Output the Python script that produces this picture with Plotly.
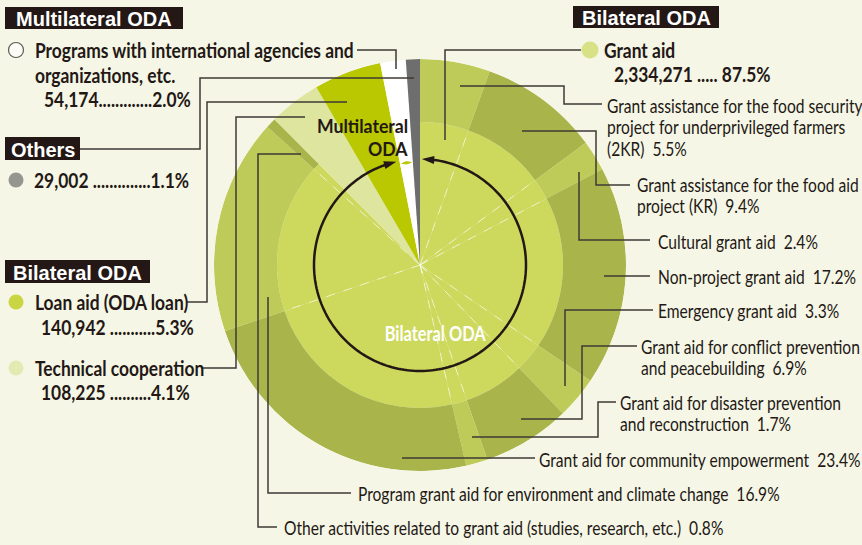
import json
import numpy as np
import plotly.graph_objects as go

# ---------------- data ----------------
top_names = ["Grant aid", "Technical cooperation", "Loan aid (ODA loan)",
             "Programs with international agencies and organizations, etc.", "Others"]
top_amounts = [2334271, 108225, 140942, 54174, 29002]
top_pcts = [87.5, 4.1, 5.3, 2.0, 1.1]

grant_names = [
    "Grant assistance for the food security<br>project for underprivileged farmers<br>(2KR)",
    "Grant assistance for the food aid<br>project (KR)",
    "Cultural grant aid",
    "Non-project grant aid",
    "Emergency grant aid",
    "Grant aid for conflict prevention<br>and peacebuilding",
    "Grant aid for disaster prevention<br>and reconstruction",
    "Grant aid for community empowerment",
    "Program grant aid for environment and climate change",
    "Other activities related to grant aid (studies, research, etc.)",
]
grant_pcts = [5.5, 9.4, 2.4, 17.2, 3.3, 6.9, 1.7, 23.4, 16.9, 0.8]

# ---------------- style / geometry ----------------
W, H = 862, 545
CX, CY = 420, 265
R_OUT, R_IN, R_ARROW = 206, 143, 106
BG = "#f5f6e5"
INK = "#231815"
LINE = "#3e3a36"
C_INNER = "#cdd95d"
C_OUT = ["#bfcb59", "#a9b54b"]
C_TECH, C_LOAN, C_MULTI, C_OTH = "#dde59e", "#b9c800", "#ffffff", "#6e6e6e"
NARROW = "Lato, Roboto, sans-serif"
WIDE = "Liberation Sans, Arial, sans-serif"
LINE_GAP = 21.5

DEG = 3.6
g_w = np.array(grant_pcts) * DEG
g_end = np.cumsum(g_w)
g_mid = g_end - g_w / 2

rest_pcts = top_pcts[1:]
r_w = np.array(rest_pcts) * DEG
r_end = g_end[-1] + np.cumsum(r_w)
r_mid = r_end - r_w / 2

fig = go.Figure()

# inner grant disk
fig.add_trace(go.Barpolar(theta=g_mid, width=g_w, r=[R_IN] * len(g_w), base=0,
                          marker=dict(color=C_INNER, line=dict(width=0)),
                          hoverinfo="skip", showlegend=False))
# outer grant ring (alternating shades)
fig.add_trace(go.Barpolar(theta=g_mid, width=g_w, r=[R_OUT - R_IN] * len(g_w), base=R_IN,
                          marker=dict(color=[C_OUT[i % 2] for i in range(len(g_w))],
                                      line=dict(width=0)),
                          hoverinfo="skip", showlegend=False))
# other top-level slices, full radius
fig.add_trace(go.Barpolar(theta=r_mid, width=r_w, r=[R_OUT] * len(r_w), base=0,
                          marker=dict(color=[C_TECH, C_LOAN, C_MULTI, C_OTH], line=dict(width=0)),
                          hoverinfo="skip", showlegend=False))
# faint dashed spokes in the inner disk
for a in g_end[:-1]:
    fig.add_trace(go.Scatterpolar(theta=[a, a], r=[0, R_IN], mode="lines",
                                  line=dict(color="rgba(255,255,255,0.6)", width=1, dash="dash"),
                                  hoverinfo="skip", showlegend=False))

# bilateral arrow circle (tips of arrowheads sit on the end points)
bil_end = r_end[1]  # end of loan aid
a0, a1 = 1.0, bil_end - 1.8
th = np.linspace(a0 + 3, a1 - 3, 200)
fig.add_trace(go.Scatterpolar(theta=th, r=[R_ARROW] * len(th), mode="lines",
                              line=dict(color=INK, width=2.5), hoverinfo="skip", showlegend=False))


def tangent_angle(theta_deg, forward):
    t = np.radians(theta_deg)
    dx, dy = np.cos(t), -np.sin(t)  # screen x, screen up for increasing (clockwise) theta
    if not forward:
        dx, dy = -dx, -dy
    return float(np.degrees(np.arctan2(dx, dy)))


fig.add_trace(go.Scatterpolar(theta=[a0, a1], r=[R_ARROW, R_ARROW], mode="markers",
                              marker=dict(symbol="arrow", size=13, color=INK,
                                          angle=[tangent_angle(a0 + 3, False), tangent_angle(a1 - 3, True)],
                                          angleref="up"),
                              hoverinfo="skip", showlegend=False))
# small multilateral arrow
R_SMALL = 103
m0, m1 = r_end[1] + 0.5, r_end[2] - 0.4
th_m = np.linspace(m0 + 1, m1 - 1, 20)
fig.add_trace(go.Scatterpolar(theta=th_m, r=[R_SMALL] * len(th_m), mode="lines",
                              line=dict(color=C_LOAN, width=1.5), hoverinfo="skip", showlegend=False))
fig.add_trace(go.Scatterpolar(theta=[m0, m1], r=[R_SMALL] * 2, mode="markers",
                              marker=dict(symbol="arrow", size=6, color=C_LOAN,
                                          angle=[tangent_angle(m0, False), tangent_angle(m1, True)],
                                          angleref="up"),
                              hoverinfo="skip", showlegend=False))

# legend swatches on the pixel overlay
sw_x = [16, 16, 16, 16, 590]
sw_y = [50, 180, 302, 368, 50]
sw_c = [C_MULTI, C_OTH, C_LOAN, C_TECH, C_INNER]
fig.add_trace(go.Scatter(x=sw_x, y=sw_y, mode="markers",
                         marker=dict(size=[15, 15, 15, 15, 17], color=sw_c,
                                     line=dict(color=[INK, "rgba(0,0,0,0)", "rgba(0,0,0,0)",
                                                      "rgba(0,0,0,0)", "rgba(0,0,0,0)"], width=1.2)),
                         hoverinfo="skip", showlegend=False, xaxis="x", yaxis="y"))

shapes = []
annotations = []
scales = []


def add_text(x, y, t, family, size, color=INK, xanchor="left", scale=1.0):
    annotations.append(dict(x=x, y=y, xref="x", yref="y", text=t, showarrow=False,
                            font=dict(family=family, size=size, color=color),
                            xanchor=xanchor, yanchor="middle", align=xanchor,
                            borderpad=0))
    scales.append(scale)


# header boxes
boxes = [(5, 7, 183, 29, "Multilateral ODA"), (5, 137, 80, 160, "Others"),
         (5, 260, 150, 283, "Bilateral ODA"), (573, 6, 719, 28, "Bilateral ODA")]
for x0, y0, x1, y1, t in boxes:
    shapes.append(dict(type="rect", xref="x", yref="y", x0=x0, y0=y0, x1=x1, y1=y1,
                       fillcolor=INK, line=dict(width=0), layer="above"))
    add_text((x0 + x1) / 2, (y0 + y1) / 2 + 1, "<b>%s</b>" % t, WIDE, 20, "white", "center")

leaders = [
    [(357, 50), (396, 50), (396, 69)],
    [(80, 149), (200, 149), (200, 78), (414, 78)],
    [(186, 302), (207, 302), (207, 102), (347, 102)],
    [(201, 368), (236, 368), (236, 117), (305, 117)],
    [(581, 50), (445, 50), (445, 140)],
    [(602, 104), (564, 104), (564, 86), (460, 86)],
    [(630, 185), (596, 185), (596, 131), (522, 131)],
    [(650, 240), (579, 240), (579, 172)],
    [(650, 276), (604, 276)],
    [(653, 310), (565, 310), (565, 386)],
    [(637, 346), (582, 346), (582, 419), (521, 419)],
    [(616, 402), (598, 402), (598, 437), (472, 437)],
    [(535, 458), (402, 458)],
    [(351, 493), (268, 493), (268, 297)],
    [(277, 527), (258, 527), (258, 154), (301, 154)],
]
for pts in leaders:
    path = "M " + " L ".join("%g,%g" % p for p in pts)
    shapes.append(dict(type="path", xref="x", yref="y", path=path,
                       line=dict(color=LINE, width=1.5), layer="above"))

NB = "\u00a0"
B_SIZE, B_SCALE = 20, 0.87
R_SIZE, R_SCALE = 19.5, 0.8


def bold(x, y, t):
    add_text(x, y, "<b>%s</b>" % t, NARROW, B_SIZE, scale=B_SCALE)


bold(34, 50, "Programs with international agencies and")
bold(34, 75, "organizations, etc.")
bold(43, 99, "%s.............%.1f%%" % (format(top_amounts[3], ","), top_pcts[3]))
bold(33, 180, "%s ..............%.1f%%" % (format(top_amounts[4], ","), top_pcts[4]))
bold(34, 302, top_names[2])
bold(40, 327, "%s ...........%.1f%%" % (format(top_amounts[2], ","), top_pcts[2]))
bold(34, 368, top_names[1])
bold(40, 392, "%s ..........%.1f%%" % (format(top_amounts[1], ","), top_pcts[1]))
bold(603, 50, top_names[0])
bold(613, 74, "%s ..... %.1f%%" % (format(top_amounts[0], ","), top_pcts[0]))

# grant sub-category labels (first-line positions)
lab_pos = [(606, 105), (636, 184), (657, 241), (657, 276), (657, 310),
           (640, 346), (619, 402), (538, 459), (357, 493), (283, 527)]
for name, p, (x, y) in zip(grant_names, grant_pcts, lab_pos):
    lines = ("%s%s%s%.1f%%" % (name, NB, NB, p)).split("<br>")
    for k, ln in enumerate(lines):
        add_text(x, y + k * LINE_GAP, ln, NARROW, R_SIZE, scale=R_SCALE)

# in-chart labels
add_text(409, 125, "<b>Multilateral</b>", NARROW, 19, INK, "right", 0.93)
add_text(409, 148, "<b>ODA</b>", NARROW, 19, INK, "right", 0.93)
add_text(435, 333, "<b>Bilateral ODA</b>", NARROW, 20.5, "white", "center", 0.8)

fig.update_layout(
    width=W, height=H, margin=dict(l=0, r=0, t=0, b=0),
    paper_bgcolor=BG, plot_bgcolor="rgba(0,0,0,0)",
    xaxis=dict(range=[0, W], domain=[0, 1], visible=False, fixedrange=True),
    yaxis=dict(range=[H, 0], domain=[0, 1], visible=False, fixedrange=True),
    polar=dict(
        domain=dict(x=[(CX - R_OUT) / W, (CX + R_OUT) / W],
                    y=[(H - CY - R_OUT) / H, (H - CY + R_OUT) / H]),
        bgcolor="rgba(0,0,0,0)", bargap=0, hole=0,
        radialaxis=dict(range=[0, R_OUT], visible=False),
        angularaxis=dict(rotation=90, direction="clockwise", visible=False),
    ),
    shapes=shapes, annotations=annotations, showlegend=False,
)

# condense the label glyphs horizontally (text stays real SVG text)
post = """
document.body.style.margin = '0px';
document.body.style.background = '%s';
var gd = document.getElementById('{plot_id}');
var sc = %s;
gd.querySelectorAll('g.annotation').forEach(function(g) {
  var i = +g.getAttribute('data-index');
  var s = sc[i];
  if (s === undefined || s === 1) return;
  var t = g.querySelector('text.annotation-text');
  if (!t) return;
  var x = parseFloat(t.getAttribute('x')) || 0;
  t.setAttribute('transform', 'translate(' + x + ',0) scale(' + s + ',1) translate(' + (-x) + ',0)');
});
""" % (BG, json.dumps(scales))
fig.write_html("out.html", config={"displayModeBar": False}, post_script=post)
